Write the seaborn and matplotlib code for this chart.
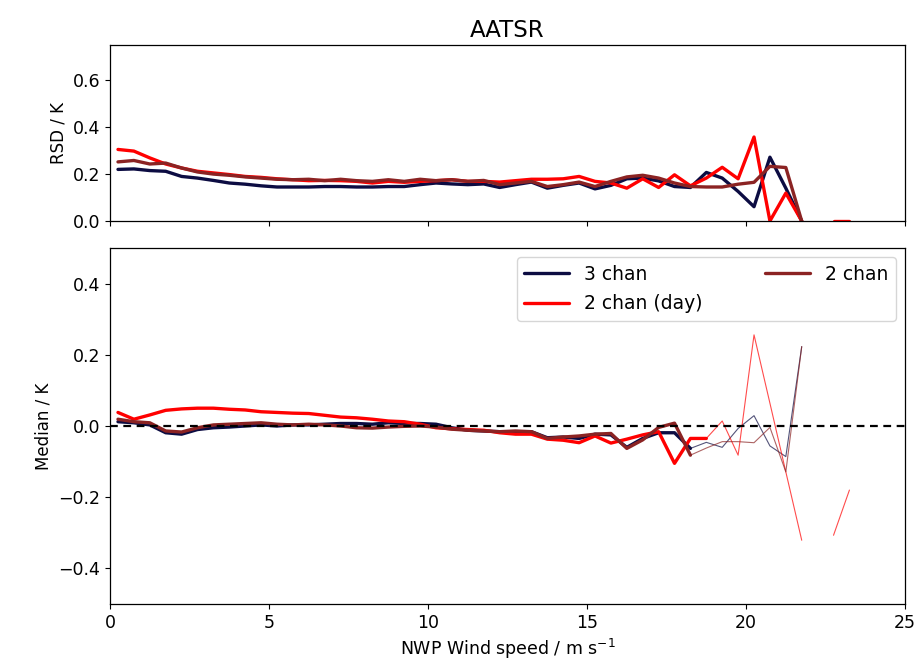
import numpy as np
import pandas as pd
import matplotlib
matplotlib.use("Agg")
import matplotlib.pyplot as plt
import seaborn as sns

sns.set_style("ticks")
plt.rcParams['font.family'] = ['DejaVu Sans']
plt.rcParams.update({
    "text.color": "black", "axes.labelcolor": "black",
    "xtick.color": "black", "ytick.color": "black",
    "axes.edgecolor": "black",
})

nan = np.nan
wind = [0.25 + 0.5 * i for i in range(47)]

rsd_3chan = [0.22, 0.222, 0.215, 0.212, 0.19, 0.183, 0.173, 0.162, 0.157, 0.15,
             0.145, 0.145, 0.145, 0.147, 0.147, 0.145, 0.145, 0.147, 0.147, 0.155,
             0.162, 0.158, 0.155, 0.158, 0.143, 0.155, 0.166, 0.14, 0.152, 0.162,
             0.137, 0.152, 0.18, 0.183, 0.171, 0.147, 0.143, 0.207, 0.183, 0.126,
             0.061, 0.272, 0.14, 0.0, nan, nan, nan]
rsd_2chan = [0.252, 0.258, 0.243, 0.247, 0.226, 0.209, 0.2, 0.195, 0.188, 0.183,
             0.178, 0.176, 0.178, 0.172, 0.178, 0.172, 0.169, 0.176, 0.169, 0.178,
             0.172, 0.176, 0.169, 0.173, 0.155, 0.162, 0.169, 0.147, 0.155, 0.166,
             0.147, 0.169, 0.188, 0.195, 0.183, 0.162, 0.147, 0.145, 0.145, 0.157,
             0.165, 0.233, 0.228, 0.0, nan, nan, nan]
rsd_2day = [0.305, 0.298, 0.269, 0.243, 0.226, 0.212, 0.205, 0.198, 0.19, 0.186,
            0.18, 0.176, 0.172, 0.173, 0.172, 0.169, 0.162, 0.169, 0.165, 0.169,
            0.172, 0.176, 0.169, 0.169, 0.166, 0.172, 0.178, 0.178, 0.18, 0.19,
            0.169, 0.162, 0.14, 0.18, 0.143, 0.197, 0.15, 0.183, 0.229, 0.18,
            0.358, 0.0, 0.119, 0.0, nan, 0.0, 0.0]

med_3chan = [0.012, 0.009, 0.003, -0.019, -0.023, -0.01, -0.005, -0.003, 0.0, 0.003,
             0.0, 0.003, 0.003, 0.005, 0.007, 0.007, 0.005, 0.009, 0.007, 0.007,
             0.005, -0.005, -0.012, -0.014, -0.016, -0.017, -0.016, -0.033, -0.031, -0.035,
             -0.023, -0.025, -0.06, -0.035, -0.019, -0.019, -0.063, -0.046, -0.06, -0.007,
             0.029, -0.056, -0.086, 0.223, nan, nan, nan]
med_2chan = [0.019, 0.012, 0.009, -0.014, -0.017, -0.005, 0.003, 0.005, 0.007, 0.009,
             0.005, 0.003, 0.005, 0.003, 0.0, -0.005, -0.006, -0.003, -0.001, 0.0,
             -0.003, -0.009, -0.012, -0.014, -0.016, -0.014, -0.016, -0.035, -0.031, -0.028,
             -0.023, -0.021, -0.063, -0.039, -0.004, 0.008, -0.082, -0.062, -0.044, -0.044,
             -0.047, -0.004, -0.129, 0.223, nan, nan, nan]
med_2day = [0.038, 0.019, 0.031, 0.044, 0.048, 0.05, 0.05, 0.047, 0.045, 0.04,
            0.038, 0.036, 0.035, 0.03, 0.025, 0.023, 0.019, 0.014, 0.012, 0.005,
            -0.005, -0.008, -0.01, -0.012, -0.019, -0.023, -0.023, -0.037, -0.04, -0.047,
            -0.028, -0.048, -0.037, -0.025, -0.016, -0.105, -0.035, -0.035, 0.014, -0.082,
            0.256, 0.064, -0.129, -0.321, nan, -0.307, -0.18]

labels = ["3 chan", "2 chan (day)", "2 chan"]
colors = ["#0c0c42", "#ff0000", "#8b2323"]
# last wind-speed bin drawn with the thick line in the median panel
thick_until = [18.25, 18.75, 18.25]

rsd = [rsd_3chan, rsd_2day, rsd_2chan]
med = [med_3chan, med_2day, med_2chan]


def draw(ax, x, y, **kw):
    df = pd.DataFrame({"x": x, "y": y})
    valid = df["y"].notna()
    grp = (~valid).cumsum()
    first = True
    for _, part in df[valid].groupby(grp[valid]):
        kk = dict(kw)
        if not first:
            kk.pop("label", None)
        sns.lineplot(data=part, x="x", y="y", ax=ax, estimator=None, sort=False, **kk)
        first = False


fig = plt.figure(figsize=(9.17, 6.71), dpi=100)
ax1 = fig.add_axes([0.12, 0.6706, 0.867, 0.2623])
ax2 = fig.add_axes([0.12, 0.0999, 0.867, 0.5305], sharex=ax1)

for i in range(3):
    draw(ax1, wind, rsd[i], color=colors[i], lw=2.4)

ax2.axhline(0, color="black", lw=1.6, ls=(0, (3.5, 2.5)), zorder=5)
for i in range(3):
    draw(ax2, wind, med[i], color=colors[i], lw=0.8, alpha=0.7)
for i in range(3):
    yy = [v if w <= thick_until[i] else nan for w, v in zip(wind, med[i])]
    draw(ax2, wind, yy, color=colors[i], lw=2.4, label=labels[i])

ax1.set_ylim(0, 0.75)
ax1.set_yticks([0.0, 0.2, 0.4, 0.6])
ax1.set_xlim(0, 25)
ax1.set_xticks([0, 5, 10, 15, 20, 25])
ax1.tick_params(labelbottom=False, labelsize=12.5)
ax1.set_ylabel("RSD / K", fontsize=12)
ax1.set_xlabel("")
ax1.set_title("AATSR", fontsize=16.5)

ax2.set_ylim(-0.5, 0.5)
ax2.set_yticks([-0.4, -0.2, 0.0, 0.2, 0.4])
ax2.tick_params(labelsize=12.5)
ax2.set_ylabel("Median / K", fontsize=12)
ax2.set_xlabel("NWP Wind speed / m s$^{-1}$", fontsize=12.5)

leg = ax2.legend(loc="upper right", ncol=2, fontsize=13.5, handlelength=2.4,
                 columnspacing=3.3, labelspacing=0.55, borderaxespad=0.5,
                 frameon=True, fancybox=True)
leg.get_frame().set_edgecolor("#cccccc")

for ax in (ax1, ax2):
    for s in ax.spines.values():
        s.set_visible(True)
        s.set_color("black")
        s.set_linewidth(0.9)

fig.savefig("out.png", dpi=100)
